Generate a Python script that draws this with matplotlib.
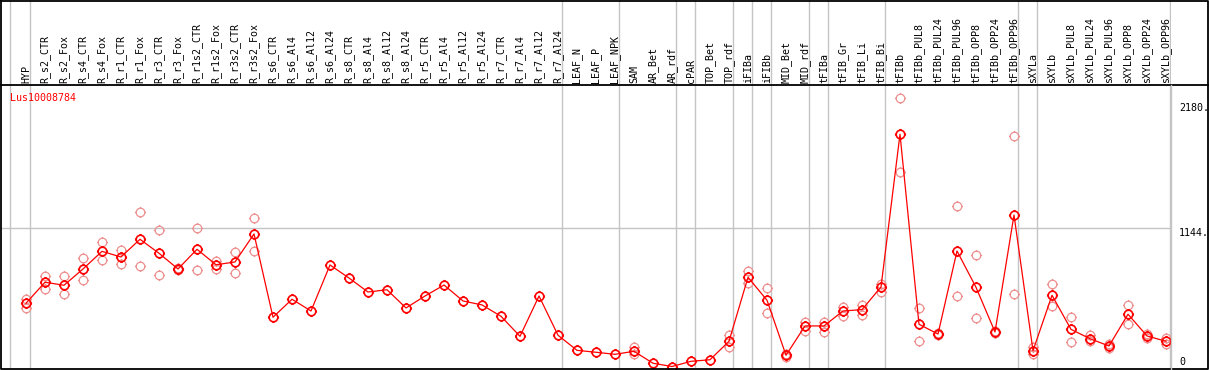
import numpy as np
import matplotlib
matplotlib.use("Agg")
import matplotlib.pyplot as plt
from matplotlib.path import Path
from matplotlib import transforms

samples = ["HYP", "R_s2_CTR", "R_s2_Fox", "R_s4_CTR", "R_s4_Fox", "R_r1_CTR", "R_r1_Fox",
           "R_r3_CTR", "R_r3_Fox", "R_r1s2_CTR", "R_r1s2_Fox", "R_r3s2_CTR", "R_r3s2_Fox",
           "R_s6_CTR", "R_s6_Al4", "R_s6_Al12", "R_s6_Al24", "R_s8_CTR", "R_s8_Al4", "R_s8_Al12",
           "R_s8_Al24", "R_r5_CTR", "R_r5_Al4", "R_r5_Al12", "R_r5_Al24", "R_r7_CTR", "R_r7_Al4",
           "R_r7_Al12", "R_r7_Al24", "LEAF_N", "LEAF_P", "LEAF_NPK", "SAM", "AR_Bet", "AR_rdf",
           "cPAR", "TOP_Bet", "TOP_rdf", "iFIBa", "iFIBb", "MID_Bet", "MID_rdf", "tFIBa",
           "tFIB_Gr", "tFIB_Li", "tFIB_Bi", "tFIBb", "tFIBb_PUL8", "tFIBb_PUL24", "tFIBb_PUL96",
           "tFIBb_OPP8", "tFIBb_OPP24", "tFIBb_OPP96", "sXYLa", "sXYLb", "sXYLb_PUL8",
           "sXYLb_PUL24", "sXYLb_PUL96", "sXYLb_OPP8", "sXYLb_OPP24", "sXYLb_OPP96"]

# mean expression (the red line)
mean_expr = [524, 698, 673, 808, 954, 907, 1054, 938, 808, 971, 843, 866, 1098,
             408, 557, 460, 841, 733, 617, 636, 485, 584, 675, 543, 510, 416, 250,
             584, 259, 134, 118, 101, 126, 27, 0, 43, 56, 209, 739, 549, 93, 336,
             336, 460, 471, 659, 1924, 350, 269, 957, 656, 286, 1255, 131, 590, 308,
             230, 170, 433, 253, 209]

nan = np.nan
# replicates (light circles), nan where none drawn
rep_a = [559, 750, 747, 896, 1029, 963, 1278, 1128, 800, 1145, 874, 946, 1228,
         nan, nan, nan, nan, nan, nan, nan, nan, nan, nan, nan, nan, nan, nan,
         nan, nan, nan, nan, nan, 164, nan, nan, nan, nan, 261, 789, 648, 106, 371,
         366, 491, 512, 686, 2222, 482, 265, 1327, 921, 280, 1910, 164, 681, 410,
         259, 186, 507, 267, 239]
rep_b = [485, 645, 598, 717, 880, 847, 830, 756, 815, 797, 810, 777, 954,
         nan, nan, nan, nan, nan, nan, nan, nan, nan, nan, nan, nan, nan, nan,
         nan, nan, nan, nan, nan, 101, nan, nan, nan, nan, 159, 689, 441, 76, 294,
         288, 421, 429, 620, 1614, 209, 274, 582, 399, 292, 598, 104, 504, 206,
         211, 151, 355, 239, 186]

gene = "Lus10008784"
tick_vals = [0, 1144, 2180]
tick_text = ["0", "1144.", "2180."]
# samples after which a grey separator is drawn
group_ends = ["HYP", "R_r7_Al24", "LEAF_NPK", "AR_rdf", "cPAR", "TOP_rdf", "iFIBa",
              "iFIBb", "MID_rdf", "tFIBa", "tFIB_Bi", "tFIBb_OPP96", "sXYLa", "sXYLb_OPP96"]

W, H = 1209, 370
fig = plt.figure(figsize=(W / 100, H / 100), dpi=100)
mono = "DejaVu Sans Mono"
grey = "#c4c4c4"

x = np.arange(len(samples))
xl = (-1.316, 60.263)

ax = fig.add_axes([1 / W, 1 / H, 1170 / W, 284 / H])
ax.set_xlim(xl)
ax.set_ylim(-20.7, 2332)
ax.axis("off")

head = fig.add_axes([1 / W, 285 / H, 1170 / W, 85 / H])
head.set_xlim(xl)
head.set_ylim(0, 1)
head.axis("off")

# separators
sep = [samples.index(s) + 0.22 for s in group_ends] + [-0.84]
for a in (ax, head):
    for s in sep:
        a.axvline(s, color=grey, lw=1.0, zorder=1)
ax.axhline(1144, color=grey, lw=1.0, zorder=1)

# marker: circle with little ticks
circ = Path.unit_circle()
tk = Path([(0, 1), (0, 1.3), (0, -1), (0, -1.3), (1, 0), (1.3, 0), (-1, 0), (-1.3, 0)],
          [Path.MOVETO, Path.LINETO] * 4)
sun = Path.make_compound_path(circ, tk)

for r in (rep_a, rep_b):
    ax.plot(x, r, ls="none", marker=sun, ms=8, mfc="none", mec="#ee9090", mew=0.9, zorder=2)
ax.plot(x, mean_expr, color="red", lw=0.9, zorder=3)
ax.plot(x, mean_expr, ls="none", marker=sun, ms=8, mfc="none", mec="red", mew=1.2, zorder=4)

ax.text(9 / 1170, 0.972, gene, transform=ax.transAxes, color="red", family=mono,
        fontsize=7.2, ha="left", va="top")

# y labels in right column
ytr = ax.get_yaxis_transform()
for v, t in zip(tick_vals, tick_text):
    ax.text(1.0068, v, t, transform=ytr, family=mono, fontsize=7.2, ha="left",
            va="bottom" if v == 0 else "top", clip_on=False)

# sample names
htr = transforms.blended_transform_factory(head.transData, head.transAxes)
for i, s in enumerate(samples):
    head.text(i, 0.02, s, transform=htr, rotation=90, ha="center", va="bottom",
              family=mono, fontsize=7.2)

# frame
frame = fig.add_axes([0, 0, 1, 1], facecolor="none")
frame.set_xlim(0, W)
frame.set_ylim(H, 0)
frame.axis("off")
frame.plot([1, 1208, 1208, 1, 1], [0.5, 0.5, 369, 369, 0.5], color="black", lw=1.3)
frame.plot([1, 1208], [85, 85], color="black", lw=1.3)
frame.plot([1171, 1171], [85, 369], color=grey, lw=1.0)

fig.savefig("out.png", dpi=100)
